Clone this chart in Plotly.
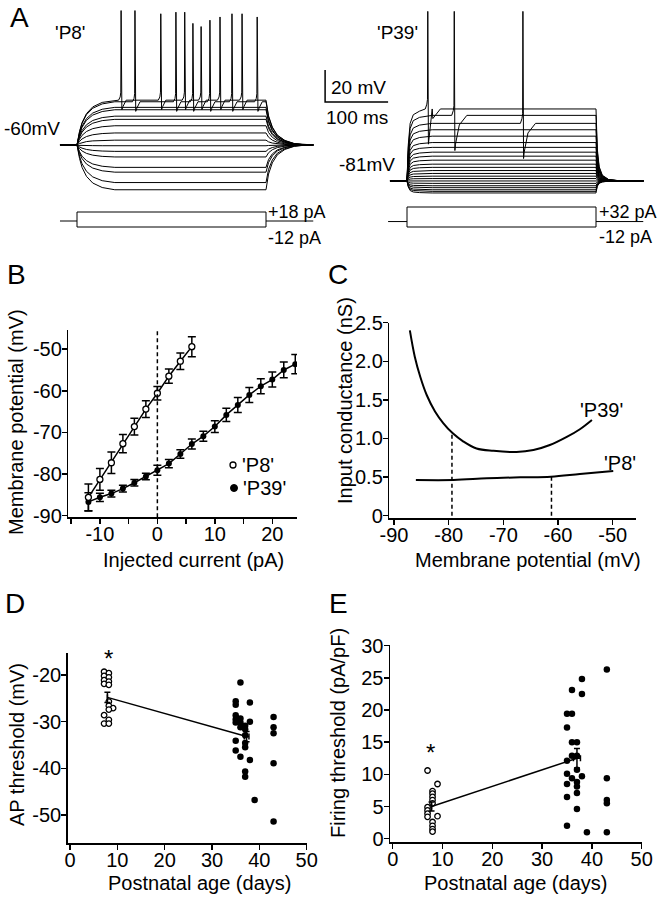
import plotly.graph_objects as go

W, H = 657, 899
FONT = "Liberation Sans, Arial, Helvetica, sans-serif"

# ---------------- Panel A data (current-clamp sweeps) ----------------
sweep_start_ms = -27
sweep_end_ms = 375
step_ms = 300
scale_mV = 20
scale_ms = 100

p8_rest_mV = -60
p8_currents_pA = [-12, -10, -8, -6, -4, -2, 0, 2, 4, 6, 8, 10, 12, 14, 16, 18]
p8_levels_mV = [-88, -83.5, -77, -74, -67.5, -64, -60.5, -57, -52.5, -48, -44, -42, -38, -36.5, -33, -32]
p8_spike_ms = [70, 92, 133, 157, 171, 184, 197, 211, 227, 246, 262, 286]
p8_spike_peak_mV = [24, 24, 22, 23, 23, 16, 14, 18, 20, 22, 22, 20]
p8_spike_sweep_pA = [18, 16, 18, 16, 18, 16, 18, 16, 18, 16, 18, 16]
p8_on_ms = [0, 4, 8, 15, 25, 40, 60]
p8_on_frac = [0, 0.3, 0.5, 0.7, 0.85, 0.95, 1.0]
p8_off_ms = [300, 304, 310, 318, 330, 345, 365]
p8_off_frac = [1.0, 0.65, 0.4, 0.22, 0.1, 0.03, 0]
p8_spk_dt = [-4, -1.5, -0.5, 0, 1.2, 3, 8]
p8_spk_dv = [0, 2, 5, None, -6, -4, 0]
p8_stim_pA = [-12, 18]

p39_rest_mV = -81
p39_currents_pA = [-12, -10, -8, -6, -4, -2, 0, 2, 4, 6, 8, 10, 12, 14, 16, 18, 20, 22, 24, 26, 28, 30, 32]
p39_levels_mV = [-88.5, -87.5, -86.5, -85.2, -84, -82.5, -81, -79.5, -78, -76.3, -74.5, -72.5,
                 -70.5, -68, -65.5, -63, -60, -57, -53, -49, -45, -40, -36]
p39_spike_ms = [33, 75, 184]
p39_spike_peak_mV = [25, 25, 25]
p39_spike_sweep_pA = [32, 30, 28]
p39_on_ms = [0, 2, 5, 10, 20, 40]
p39_on_frac = [0, 0.5, 0.8, 0.92, 0.97, 1.0]
p39_off_ms = [300, 302, 305, 310, 320, 340]
p39_off_frac = [1.0, 0.45, 0.2, 0.08, 0.02, 0]
p39_spk_dt = [-4, -1.5, -0.5, 0, 1.0, 2.0, 8, 20]
p39_spk_dv = [0, 3, 6, None, -22, -18, -6, 0]
p39_stim_pA = [-12, 32]

# ---------------- Panel B data (I-V) ----------------
b_p8_I = [-12, -10, -8, -6, -4, -2, 0, 2, 4, 6]
b_p8_V = [-85.6, -81.3, -77.3, -72.7, -68.6, -64.4, -60.6, -56.5, -52.9, -49.4]
b_p8_err = [3.2, 2.6, 2.6, 2.2, 2.0, 2.0, 1.6, 1.7, 2.0, 2.4]
b_p39_I = [-12, -10, -8, -6, -4, -2, 0, 2, 4, 6, 8, 10, 12, 14, 16, 18, 20, 22, 24]
b_p39_V = [-86.7, -85.6, -84.7, -83.5, -82.1, -80.6, -79.1, -77.5, -75.2, -72.8, -70.9, -68.6,
           -65.8, -63.4, -61.0, -58.9, -57.3, -55.0, -53.6]
b_p39_err = [2.2, 1.0, 0.8, 0.8, 0.8, 0.8, 1.2, 1.0, 1.0, 1.2, 1.2, 1.4, 1.6, 1.8, 1.8, 1.8, 1.8, 1.9, 2.3]

# ---------------- Panel C data (input conductance) ----------------
c_p39_V = [-87.1, -86.2, -85.2, -84.0, -82.5, -81.0, -79.3, -77.3, -74.9, -71.8, -67.6, -64.5, -61.5, -58.4, -56.0, -53.8]
c_p39_G = [2.40, 2.06, 1.80, 1.56, 1.35, 1.20, 1.07, 0.96, 0.87, 0.84, 0.825, 0.85, 0.915, 1.02, 1.12, 1.24]
c_p8_V = [-86.0, -79.1, -73.0, -66.9, -61.3, -56.0, -49.9]
c_p8_G = [0.462, 0.462, 0.484, 0.497, 0.505, 0.54, 0.579]
c_rest_V = [-79.4, -61.2]
c_rest_G = [1.07, 0.50]

# ---------------- Panel D data (AP threshold) ----------------
d_p8_age = [7.2, 8.2, 7.2, 8.2, 7.2, 8.2, 7.2, 8.2, 8.2, 8.2, 9.1, 8.2, 7.2, 8.2, 7.2, 8.2]
d_p8_thr = [-19.3, -19.6, -20.2, -20.5, -21.1, -21.4, -21.9, -22.1, -25.7, -26.6, -27.1, -27.4, -28.6, -29.6, -30.4, -30.4]
d_p39_age = [36, 35, 35, 38, 35, 35, 36, 35, 36, 38, 37, 36, 37, 37, 35, 37, 37, 35, 36, 38, 37, 37, 39,
             43, 43, 43, 43, 43]
d_p39_thr = [-21.6, -25.6, -26.4, -25.9, -28.6, -29.5, -29.3, -30.2, -30.2, -30.0, -30.9, -31.2, -31.6,
             -32.9, -34.1, -34.6, -35.5, -36.2, -37.5, -38.2, -40.7, -41.8, -46.8,
             -29.0, -31.2, -32.5, -38.9, -51.4]
d_mean_age = [7.9, 37.3]
d_mean_thr = [-24.8, -33.2]
d_mean_err = [1.1, 1.1]
d_mean_age_err = [0, 0.5]

# ---------------- Panel E data (firing threshold) ----------------
e_p8_age = [7, 9, 8, 8, 8, 8, 8, 7, 7, 7, 9, 7, 8, 8, 8, 8]
e_p8_thr = [10.6, 8.5, 7.4, 7.0, 6.5, 6.0, 5.5, 4.9, 4.4, 3.9, 3.5, 3.4, 2.6, 2.0, 1.5, 1.1]
e_p39_age = [36, 38, 38, 43, 35, 36, 35, 36, 37, 35, 36, 37, 35, 37, 38, 36, 35, 37, 37, 37, 35, 37, 35, 39,
             43, 43, 43, 43]
e_p39_thr = [23.1, 24.8, 22.5, 26.3, 19.4, 19.4, 17.3, 15.0, 15.0, 12.1, 12.9, 12.9, 10.1, 10.7, 9.7, 9.4,
             8.5, 8.8, 8.1, 7.1, 6.5, 4.6, 2.0, 1.0, 9.4, 6.0, 5.5, 1.0]
e_mean_age = [7.8, 37.0]
e_mean_thr = [5.0, 12.5]
e_mean_err = [0.7, 1.5]
e_mean_age_err = [0, 0.7]


def px_x(a, b):
    return [a / W, b / W]


def px_y(top, bottom):
    return [1 - bottom / H, 1 - top / H]


def sweep(rest, level, on_t, on_f, off_t, off_f, spikes, sp_dt, sp_dv):
    pts = [(sweep_start_ms, rest)]
    pts += [(t, rest + f * (level - rest)) for t, f in zip(on_t, on_f)]
    pts += [(t, rest + f * (level - rest)) for t, f in zip(off_t, off_f)]
    pts.append((sweep_end_ms, rest))
    for ts, peak in spikes:
        for dt, dv in zip(sp_dt, sp_dv):
            pts.append((ts + dt, peak if dv is None else level + dv))
    pts.sort(key=lambda p: p[0])
    return [p[0] for p in pts], [p[1] for p in pts]


fig = go.Figure()
LINE = dict(color="black", width=1)

# ---- Panel A left (P8) ----
for I, lvl in zip(p8_currents_pA, p8_levels_mV):
    spk = [(t, pk) for t, pk, s in zip(p8_spike_ms, p8_spike_peak_mV, p8_spike_sweep_pA) if s == I]
    xs, ys = sweep(p8_rest_mV, lvl, p8_on_ms, p8_on_frac, p8_off_ms, p8_off_frac, spk, p8_spk_dt, p8_spk_dv)
    fig.add_trace(go.Scatter(x=xs, y=ys, mode="lines", line=LINE, xaxis="x1", yaxis="y1",
                             showlegend=False, hoverinfo="skip"))
fig.add_trace(go.Scatter(x=[0, 0, step_ms, step_ms, 0],
                         y=[p8_stim_pA[0], p8_stim_pA[1], p8_stim_pA[1], p8_stim_pA[0], p8_stim_pA[0]],
                         mode="lines", line=LINE, xaxis="x2", yaxis="y2", showlegend=False, hoverinfo="skip"))
fig.add_trace(go.Scatter(x=[sweep_start_ms, 0, None, step_ms, sweep_end_ms], y=[0, 0, None, 0, 0],
                         mode="lines", line=LINE, xaxis="x2", yaxis="y2", showlegend=False, hoverinfo="skip"))

# ---- Panel A right (P39) ----
for I, lvl in zip(p39_currents_pA, p39_levels_mV):
    spk = [(t, pk) for t, pk, s in zip(p39_spike_ms, p39_spike_peak_mV, p39_spike_sweep_pA) if s == I]
    xs, ys = sweep(p39_rest_mV, lvl, p39_on_ms, p39_on_frac, p39_off_ms, p39_off_frac, spk, p39_spk_dt, p39_spk_dv)
    fig.add_trace(go.Scatter(x=xs, y=ys, mode="lines", line=LINE, xaxis="x3", yaxis="y3",
                             showlegend=False, hoverinfo="skip"))
fig.add_trace(go.Scatter(x=[0, 0, step_ms, step_ms, 0],
                         y=[p39_stim_pA[0], p39_stim_pA[1], p39_stim_pA[1], p39_stim_pA[0], p39_stim_pA[0]],
                         mode="lines", line=LINE, xaxis="x4", yaxis="y4", showlegend=False, hoverinfo="skip"))
fig.add_trace(go.Scatter(x=[sweep_start_ms - 3, 0, None, step_ms, sweep_end_ms], y=[0, 0, None, 0, 0],
                         mode="lines", line=LINE, xaxis="x4", yaxis="y4", showlegend=False, hoverinfo="skip"))
# scale bar
sb_t0, sb_v0 = -130, -31.6
fig.add_trace(go.Scatter(x=[sb_t0, sb_t0, sb_t0 + scale_ms], y=[sb_v0 + scale_mV, sb_v0, sb_v0],
                         mode="lines", line=dict(color="black", width=1.5), xaxis="x3", yaxis="y3",
                         showlegend=False, hoverinfo="skip"))

# ---- Panel B ----
fig.add_trace(go.Scatter(x=b_p39_I, y=b_p39_V, mode="lines+markers",
                         error_y=dict(type="data", array=b_p39_err, color="black", thickness=1.5, width=4),
                         line=dict(color="black", width=1.5),
                         marker=dict(symbol="circle", size=6, color="black"),
                         xaxis="x5", yaxis="y5", showlegend=False, hoverinfo="skip"))
fig.add_trace(go.Scatter(x=b_p8_I, y=b_p8_V, mode="lines+markers",
                         error_y=dict(type="data", array=b_p8_err, color="black", thickness=1.5, width=4),
                         line=dict(color="black", width=1.5),
                         marker=dict(symbol="circle", size=6, color="white", line=dict(color="black", width=1.3)),
                         xaxis="x5", yaxis="y5", showlegend=False, hoverinfo="skip"))

# ---- Panel C ----
fig.add_trace(go.Scatter(x=c_p39_V, y=c_p39_G, mode="lines", line=dict(color="black", width=2, shape="spline"),
                         xaxis="x6", yaxis="y6", showlegend=False, hoverinfo="skip"))
fig.add_trace(go.Scatter(x=c_p8_V, y=c_p8_G, mode="lines", line=dict(color="black", width=2, shape="spline"),
                         xaxis="x6", yaxis="y6", showlegend=False, hoverinfo="skip"))
for v, g in zip(c_rest_V, c_rest_G):
    fig.add_trace(go.Scatter(x=[v, v], y=[0, g], mode="lines", line=dict(color="black", width=1.5, dash="4px,3px"),
                             xaxis="x6", yaxis="y6", showlegend=False, hoverinfo="skip"))

# ---- Panel D ----
fig.add_trace(go.Scatter(x=d_p39_age, y=d_p39_thr, mode="markers", marker=dict(size=6.5, color="black"),
                         xaxis="x7", yaxis="y7", showlegend=False, hoverinfo="skip"))
fig.add_trace(go.Scatter(x=d_p8_age, y=d_p8_thr, mode="markers",
                         marker=dict(size=5.5, color="white", line=dict(color="black", width=1.3)),
                         xaxis="x7", yaxis="y7", showlegend=False, hoverinfo="skip"))
fig.add_trace(go.Scatter(x=d_mean_age, y=d_mean_thr, mode="lines", line=dict(color="black", width=1.5),
                         error_y=dict(type="data", array=d_mean_err, color="black", thickness=1.5, width=3),
                         error_x=dict(type="data", array=d_mean_age_err, color="black", thickness=1.5, width=3),
                         xaxis="x7", yaxis="y7", showlegend=False, hoverinfo="skip"))

# ---- Panel E ----
fig.add_trace(go.Scatter(x=e_p39_age, y=e_p39_thr, mode="markers", marker=dict(size=6.5, color="black"),
                         xaxis="x8", yaxis="y8", showlegend=False, hoverinfo="skip"))
fig.add_trace(go.Scatter(x=e_p8_age, y=e_p8_thr, mode="markers",
                         marker=dict(size=5.5, color="white", line=dict(color="black", width=1.3)),
                         xaxis="x8", yaxis="y8", showlegend=False, hoverinfo="skip"))
fig.add_trace(go.Scatter(x=e_mean_age, y=e_mean_thr, mode="lines", line=dict(color="black", width=1.5),
                         error_y=dict(type="data", array=e_mean_err, color="black", thickness=1.5, width=3),
                         error_x=dict(type="data", array=e_mean_age_err, color="black", thickness=1.5, width=3),
                         xaxis="x8", yaxis="y8", showlegend=False, hoverinfo="skip"))

# ---------------- axes ----------------
hidden = dict(visible=False, showgrid=False, zeroline=False, fixedrange=True, automargin=False)
ax = dict(showline=True, linecolor="black", linewidth=1.5, ticks="outside", ticklen=5, tickwidth=1.5,
          tickcolor="black", showgrid=False, zeroline=False, mirror=False, automargin=False,
          tickfont=dict(size=20, color="black", family=FONT))
axx = dict(ax, ticklabelstandoff=-7)
axy = dict(ax, ticklabelstandoff=-4)

A_L_rng = [-77 / 0.63, (330 - 77) / 0.63]
A_R_rng = [(320 - 407) / 0.63, (657 - 407) / 0.63]


def ticks(vals, show):
    return dict(tickmode="array", tickvals=vals,
                ticktext=[(str(v) if s else "") for v, s in zip(vals, show)])


fig.update_layout(
    xaxis1=dict(hidden, domain=px_x(0, 330), range=A_L_rng, anchor="y1"),
    yaxis1=dict(hidden, domain=px_y(0, 240), range=[-119.4, 30.6], anchor="x1"),
    xaxis2=dict(hidden, domain=px_x(0, 330), range=A_L_rng, anchor="y2"),
    yaxis2=dict(hidden, domain=px_y(211, 228), range=[-14, 20], anchor="x2"),
    xaxis3=dict(hidden, domain=px_x(320, 657), range=A_R_rng, anchor="y3"),
    yaxis3=dict(hidden, domain=px_y(0, 240), range=[-117.9, 32.1], anchor="x3"),
    xaxis4=dict(hidden, domain=px_x(320, 657), range=A_R_rng, anchor="y4"),
    yaxis4=dict(hidden, domain=px_y(206, 228), range=[-14.2, 34.2], anchor="x4"),
    xaxis5=dict(axx, domain=px_x(68.3, 297), range=[-15.5, 24.3], anchor="y5",
                **ticks([-15, -10, -5, 0, 5, 10, 15, 20], [0, 1, 0, 1, 0, 1, 0, 1])),
    yaxis5=dict(axy, domain=px_y(330, 517.3), range=[-90.4, -45.4], anchor="x5",
                **ticks([-90, -80, -70, -60, -50], [1, 1, 1, 1, 1])),
    xaxis6=dict(axx, domain=px_x(389.3, 636), range=[-90.86, -45.74], anchor="y6",
                **ticks([-90, -80, -70, -60, -50], [1, 1, 1, 1, 1])),
    yaxis6=dict(axy, domain=px_y(322.7, 518.3), range=[-0.034, 2.5], anchor="x6",
                tickmode="array", tickvals=[0, 0.5, 1, 1.5, 2, 2.5],
                ticktext=["0", "0.5", "1.0", "1.5", "2.0", "2.5"]),
    xaxis7=dict(axx, domain=px_x(67.7, 306.7), range=[-0.49, 50], anchor="y7",
                **ticks([0, 10, 20, 30, 40, 50], [1] * 6)),
    yaxis7=dict(axy, domain=px_y(652.7, 843.3), range=[-56.07, -15.22], anchor="x7",
                **ticks([-50, -40, -30, -20], [1] * 4)),
    xaxis8=dict(axx, domain=px_x(390, 642), range=[-0.54, 50.06], anchor="y8",
                **ticks([0, 10, 20, 30, 40, 50], [1] * 6)),
    yaxis8=dict(axy, domain=px_y(645, 842), range=[-0.51, 30.1], anchor="x8",
                **ticks([0, 5, 10, 15, 20, 25, 30], [1] * 7)),
)

# ---------------- text ----------------
ann = []


def text(s, x, y, size=20, xanchor="center", angle=0):
    ann.append(dict(text=s, x=x / W, y=1 - y / H, xref="paper", yref="paper", showarrow=False,
                    xanchor=xanchor, yanchor="middle", textangle=angle,
                    font=dict(size=size, color="black", family=FONT)))


text("A", 19, 18, 28)
text("B", 16, 274, 28)
text("C", 338, 274, 28)
text("D", 15, 603, 28)
text("E", 338, 603, 28)
text("'P8'", 53, 33, 19, "left")
text("'P39'", 375, 33, 19, "left")
text("-60mV", 2, 128, 19, "left")
text("-81mV", 337, 165, 19, "left")
text("20 mV", 329, 87, 19, "left")
text("100 ms", 324, 118, 19, "left")
text("+18 pA", 266, 212, 18, "left")
text("-12 pA", 266, 238, 18, "left")
text("+32 pA", 597, 212, 18, "left")
text("-12 pA", 597, 237, 18, "left")
text("Membrane potential (mV)", 16, 422, 20, angle=-90)
text("Injected current (pA)", 193, 560, 20)
text("Input conductance (nS)", 345, 401, 20, angle=-90)
text("Membrane potential (mV)", 528, 560, 20)
text("AP threshold (mV)", 17, 745, 20, angle=-90)
text("Postnatal age (days)", 199, 883, 20)
text("Firing threshold (pA/pF)", 338, 733, 20, angle=-90)
text("Postnatal age (days)", 515, 883, 20)
text("'P8'", 240, 465, 20, "left")
text("'P39'", 241, 488, 20, "left")
text("'P39'", 601, 410, 20)
text("'P8'", 620, 463, 20)
text("*", 108, 658, 24)
text("*", 430, 752, 24)

shapes = [
    dict(type="line", xref="x5", yref="y5 domain", x0=0, x1=0, y0=0, y1=1,
         line=dict(color="black", width=1.5, dash="4px,3px")),
    dict(type="circle", xref="paper", yref="paper", x0=230 / W, x1=236 / W, y0=1 - 468 / H, y1=1 - 462 / H,
         line=dict(color="black", width=1.3), fillcolor="white"),
    dict(type="circle", xref="paper", yref="paper", x0=230.5 / W, x1=237.5 / W, y0=1 - 491.5 / H, y1=1 - 484.5 / H,
         line=dict(color="black", width=1), fillcolor="black"),
]

fig.update_layout(width=W, height=H, margin=dict(l=0, r=0, t=0, b=0, pad=0, autoexpand=False),
                  paper_bgcolor="white", plot_bgcolor="white", annotations=ann, shapes=shapes,
                  showlegend=False, font=dict(family=FONT, color="black"))

fig.write_html("out.html", config={"displayModeBar": False, "staticPlot": True},
               post_script="document.body.style.margin='0px';document.body.style.overflow='hidden';")
